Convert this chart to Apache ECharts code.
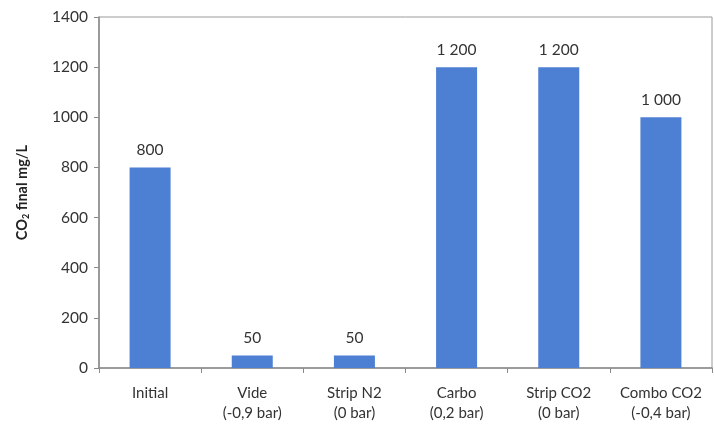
<!DOCTYPE html>
<html>
<head>
<meta charset="utf-8">
<script src="https://cdn.jsdelivr.net/npm/echarts@6/dist/echarts.min.js"></script>
<style>
html,body{margin:0;padding:0;background:#fff;}
#chart{width:714px;height:432px;}
</style>
</head>
<body>
<div id="chart"></div>
<script>
const categories = ['Initial', 'Vide\n(-0,9 bar)', 'Strip N2\n(0 bar)', 'Carbo\n(0,2 bar)', 'Strip CO2\n(0 bar)', 'Combo CO2\n(-0,4 bar)'];
const values = [800, 50, 50, 1200, 1200, 1000];
const yTicks = [0, 200, 400, 600, 800, 1000, 1200, 1400];

const FONT = 'Lato, "Open Sans", sans-serif';
const chart = echarts.init(document.getElementById('chart'), null, {renderer: 'canvas'});
chart.setOption({
  animation: false,
  backgroundColor: '#ffffff',
  grid: {left: 99, right: 2, top: 17, bottom: 64, show: true, borderColor: '#9a9a9a', borderWidth: 1, backgroundColor: 'transparent'},
  xAxis: {
    type: 'category',
    data: categories,
    axisLine: {lineStyle: {color: '#8a8a8a', width: 1.5}},
    axisTick: {show: true, alignWithLabel: false, length: 5, inside: false, lineStyle: {color: '#8a8a8a'}},
    axisLabel: {color: '#333', fontSize: 15, fontFamily: FONT, lineHeight: 20, margin: 15, interval: 0}
  },
  yAxis: {
    type: 'value',
    min: yTicks[0],
    max: yTicks[yTicks.length - 1],
    interval: 200,
    splitLine: {show: false},
    axisLine: {show: true, lineStyle: {color: '#8a8a8a', width: 1.5}},
    axisTick: {show: true, length: 5, lineStyle: {color: '#8a8a8a'}},
    axisLabel: {color: '#333', fontSize: 15.5, fontFamily: FONT, margin: 11, formatter: v => String(v)},
    name: '{a|CO}{s|2}{a| final mg/L}',
    nameLocation: 'middle',
    nameGap: 68,
    nameRotate: 90,
    nameTextStyle: {
      rich: {
        a: {fontSize: 14.5, fontWeight: 'bold', color: '#222', fontFamily: FONT},
        s: {fontSize: 9, fontWeight: 'bold', color: '#222', fontFamily: FONT, verticalAlign: 'bottom', padding: [8, 0, 0, 0]}
      }
    }
  },
  series: [{
    type: 'bar',
    data: values,
    barWidth: 41,
    itemStyle: {color: '#4d7fd3'},
    label: {
      show: true,
      position: 'top',
      distance: 9,
      color: '#333',
      fontSize: 15.5,
      fontFamily: FONT,
      formatter: p => String(p.value).replace(/\B(?=(\d{3})+(?!\d))/g, ' ')
    }
  }]
});
</script>
</body>
</html>
